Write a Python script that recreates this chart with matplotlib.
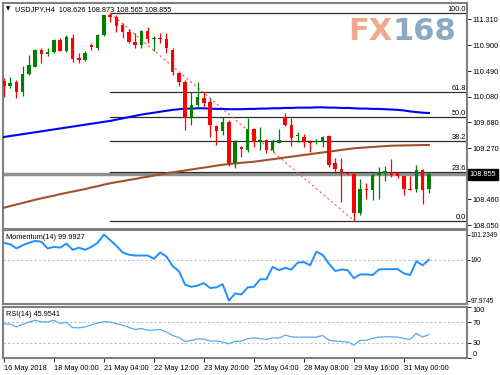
import numpy as np
import matplotlib.pyplot as plt

plt.rcParams['font.family'] = ['Liberation Sans', 'DejaVu Sans']

# H4 candles, 16 May 16:00 .. 31 May 16:00
opens = [110.33, 110.25, 110.31, 110.15, 110.44, 110.56, 110.83, 110.755, 110.79, 110.98,
         110.81, 111.02, 110.70, 110.665, 110.90, 110.85, 111.06, 111.378, 111.35, 111.22,
         111.11, 110.955, 110.90, 111.13, 110.99, 111.02, 110.99, 110.82, 110.46, 110.32,
         109.74, 109.95, 110.07, 110.00, 109.62, 109.54, 109.69, 109.03, 109.29, 109.24,
         109.567, 109.38, 109.40, 109.24, 109.355, 109.757, 109.635, 109.46, 109.45, 109.37,
         109.36, 109.37, 109.46, 109.03, 108.93, 108.88, 108.855, 108.236, 108.62, 108.60,
         108.84, 108.88, 108.89, 108.87, 108.83, 108.62, 108.616, 108.92, 108.626]
highs = [110.38, 110.40, 110.35, 110.57, 110.74, 110.84, 110.86, 110.86, 111.00, 111.02,
         111.06, 111.08, 110.78, 110.80, 110.93, 111.08, 111.38, 111.405, 111.38, 111.25,
         111.16, 111.09, 111.14, 111.19, 111.05, 111.09, 111.09, 110.85, 110.46, 110.35,
         110.16, 110.32, 110.16, 110.06, 109.635, 109.757, 109.71, 109.40, 109.30, 109.74,
         109.58, 109.60, 109.42, 109.41, 109.567, 109.83, 109.75, 109.53, 109.49, 109.40,
         109.42, 109.46, 109.48, 109.11, 109.11, 108.89, 108.87, 108.78, 108.71, 108.87,
         108.97, 108.98, 109.09, 108.895, 108.83, 108.82, 109.00, 108.93, 108.873]
lows = [110.08, 110.22, 110.07, 110.09, 110.43, 110.55, 110.62, 110.73, 110.78, 110.80,
        110.79, 110.64, 110.61, 110.65, 110.82, 110.83, 111.05, 111.27, 111.11, 111.01,
        110.94, 110.85, 110.85, 110.93, 110.80, 110.94, 110.77, 110.43, 110.25, 109.55,
        109.635, 109.925, 109.925, 109.45, 109.32, 109.477, 108.99, 108.95, 109.13, 109.21,
        109.29, 109.24, 109.19, 109.21, 109.35, 109.62, 109.30, 109.37, 109.29, 109.21,
        109.33, 109.29, 108.975, 108.87, 108.42, 108.84, 108.12, 108.21, 108.47, 108.45,
        108.47, 108.74, 108.81, 108.79, 108.525, 108.60, 108.58, 108.39, 108.565]
closes = [110.25, 110.30, 110.15, 110.45, 110.59, 110.83, 110.755, 110.79, 110.98, 110.81,
          111.03, 110.68, 110.665, 110.77, 110.875, 111.06, 111.37, 111.35, 111.20, 111.11,
          110.955, 110.90, 111.13, 110.99, 111.02, 110.99, 110.85, 110.48, 110.32, 109.74,
          109.95, 110.08, 109.98, 109.635, 109.54, 109.687, 109.03, 109.36, 109.25, 109.567,
          109.37, 109.40, 109.24, 109.37, 109.40, 109.635, 109.424, 109.48, 109.37, 109.35,
          109.385, 109.45, 109.00, 108.93, 108.87, 108.855, 108.236, 108.616, 108.60, 108.84,
          108.89, 108.91, 108.84, 108.83, 108.616, 108.61, 108.92, 108.60, 108.855]

ma_blue = [109.445, 109.46, 109.475, 109.49, 109.505, 109.52, 109.535, 109.55, 109.565, 109.58,
           109.595, 109.61, 109.625, 109.64, 109.655, 109.67, 109.685, 109.70, 109.72, 109.74,
           109.76, 109.78, 109.80, 109.815, 109.83, 109.845, 109.86, 109.875, 109.885, 109.895,
           109.895, 109.90, 109.90, 109.895, 109.89, 109.89, 109.885, 109.885, 109.885, 109.89,
           109.89, 109.895, 109.895, 109.90, 109.90, 109.905, 109.905, 109.91, 109.91, 109.91,
           109.915, 109.915, 109.91, 109.91, 109.905, 109.905, 109.90, 109.895, 109.895, 109.89,
           109.89, 109.885, 109.88, 109.875, 109.865, 109.85, 109.84, 109.83, 109.825]
ma_brown = [108.324, 108.35, 108.375, 108.40, 108.425, 108.45, 108.473, 108.495, 108.515, 108.54,
            108.56, 108.58, 108.60, 108.62, 108.645, 108.665, 108.69, 108.711, 108.73, 108.745,
            108.765, 108.78, 108.80, 108.815, 108.835, 108.85, 108.87, 108.885, 108.90, 108.915,
            108.93, 108.945, 108.96, 108.975, 108.99, 109.005, 109.017, 109.027, 109.036, 109.045,
            109.053, 109.066, 109.08, 109.093, 109.106, 109.12, 109.133, 109.146, 109.16, 109.173,
            109.186, 109.20, 109.213, 109.226, 109.24, 109.253, 109.266, 109.273, 109.28, 109.287,
            109.294, 109.30, 109.307, 109.309, 109.311, 109.313, 109.315, 109.317, 109.318]

momentum = [100.82, 100.76, 100.55, 100.71, 100.83, 100.92, 100.88, 100.55, 100.63, 100.59,
            100.79, 100.48, 100.59, 100.48, 100.63, 100.83, 101.2349, 100.96, 100.68, 100.35,
            100.24, 100.20, 100.20, 100.20, 100.04, 100.35, 100.15, 99.68, 99.43, 98.76,
            98.66, 98.72, 98.84, 98.60, 98.63, 98.79, 97.9745, 98.33, 98.28, 98.63,
            98.66, 99.03, 99.03, 99.64, 99.48, 99.59, 99.51, 99.85, 99.88, 99.72,
            100.39, 100.23, 99.80, 99.44, 99.51, 99.48, 99.08, 99.27, 99.27, 99.24,
            99.51, 99.53, 99.53, 99.53, 99.32, 99.24, 99.92, 99.72, 99.9927]
rsi = [66.8, 66.5, 61.0, 66.0, 70.5, 73.9, 71.0, 70.6, 73.9, 67.5,
       70.0, 59.5, 59.1, 61.0, 65.0, 68.5, 71.4, 70.5, 67.0, 64.5,
       60.0, 55.8, 57.8, 54.5, 55.0, 55.8, 51.0, 44.0, 40.0, 32.5,
       34.5, 37.5, 37.0, 33.0, 33.5, 31.2, 28.0, 32.5, 33.2, 38.0,
       39.6, 37.9, 36.4, 39.6, 38.9, 44.8, 41.5, 40.9, 40.9, 40.9,
       40.9, 44.2, 35.0, 33.2, 32.5, 31.5, 25.5, 34.5, 34.5, 38.5,
       41.0, 41.6, 41.6, 40.9, 38.3, 36.4, 48.1, 41.0, 45.9541]

time_pos = [0, 8, 16, 24, 32, 40, 48, 56, 64]
time_labels = ['16 May 2018', '18 May 00:00', '21 May 04:00', '22 May 12:00', '23 May 20:00',
               '25 May 04:00', '28 May 08:00', '29 May 16:00', '31 May 00:00']
price_ticks = [111.310, 110.900, 110.490, 110.080, 109.680, 109.270, 108.460, 108.050]
last_price = 108.855

fib_high, fib_low = 111.405, 108.12
fib_start, fib_end = 17, 56
fib_levels = [100.0, 61.8, 50.0, 38.2, 23.6, 0.0]

W, H = 500, 375
fig = plt.figure(figsize=(5, 3.75), dpi=100)
fs = 5.3
grey = '#808080'

def add_panel(top, bottom):
    ax = fig.add_axes([3 / W, (H - bottom) / H, 464 / W, (bottom - top) / H])
    for s in ax.spines.values():
        s.set_color(grey)
        s.set_linewidth(1.5)
    ax.yaxis.tick_right()
    ax.tick_params(axis='y', labelsize=fs, length=3, width=0.6, color='black', pad=1)
    ax.set_xticks([])
    ax.set_xlim(-0.15, 74.1)
    return ax

ax = add_panel(3, 229)
ax_m = add_panel(230, 304)
ax_r = add_panel(307, 358)

x = np.arange(len(opens))
o = np.array(opens); c = np.array(closes)
up = c >= o
cols = np.where(up, '#008000', '#ff0000')

# current price line
ax.axhline(last_price, color='#909090', lw=2.5, zorder=1)

# fibonacci
rng = fib_high - fib_low
for lv in fib_levels:
    p = fib_low + lv / 100 * rng
    ax.plot([fib_start, 80], [p, p], color='#303030', lw=0.9, zorder=1)
    ax.text(73.9, p, f'{lv:.1f}', fontsize=fs, ha='right', va='bottom', zorder=5)
ax.plot([fib_start, fib_end], [fib_high, fib_low], color='#ff5050', lw=0.8,
        ls=(0, (2, 2.5)), zorder=2)

ax.plot(x, ma_blue, color='#0000ff', lw=1.5, zorder=3)
ax.plot(x, ma_brown, color='#a0522d', lw=1.5, zorder=3)

ax.vlines(x, lows, highs, colors=cols, lw=0.9, zorder=4)
body = np.maximum(np.abs(c - o), 0.012)
ax.bar(x, body, bottom=np.minimum(o, c), width=0.58, color=cols, lw=0, zorder=4)

ax.set_ylim(107.987, 111.568)
ax.set_yticks(price_ticks)
ax.set_yticklabels([f'{v:.3f}' for v in price_ticks])
ax.annotate(f'{last_price:.3f}', xy=(1, last_price), xycoords=('axes fraction', 'data'),
            xytext=(2, 0), textcoords='offset points', fontsize=fs, color='white',
            va='center', ha='left',
            bbox=dict(boxstyle='square,pad=0.25', fc='black', ec='black'))

ax.text(0.006, 0.985, '▼', transform=ax.transAxes, fontsize=4, va='top', ha='left',
        family='DejaVu Sans')
ax.text(0.025, 0.985, 'USDJPY,H4  108.626 108.873 108.565 108.855', transform=ax.transAxes,
        fontsize=fs, va='top', ha='left')
ax.text(0.745, 0.875, 'FX', transform=ax.transAxes, fontsize=22, fontweight='bold',
        color='#f2a88c', va='center', ha='left', family='DejaVu Sans')
ax.text(0.84, 0.875, '168', transform=ax.transAxes, fontsize=22, fontweight='bold',
        color='#8aaac4', va='center', ha='left', family='DejaVu Sans')

# momentum
ax_m.axhline(100, color='#c0c0c0', lw=0.8, ls=(0, (2, 2)))
ax_m.plot(x, momentum, color='#1e90ff', lw=1.4)
ax_m.set_ylim(97.81, 101.46)
ax_m.set_yticks([101.2349, 100, 97.9745])
ax_m.set_yticklabels(['101.2349', '100', '97.9745'])
ax_m.tick_params(axis='y', labelsize=4.7, length=2, pad=0.8)
ax_m.text(0.006, 0.94, 'Momentum(14) 99.9927', transform=ax_m.transAxes, fontsize=fs,
          va='top', ha='left')

# rsi
for lv in (70, 30):
    ax_r.axhline(lv, color='#c0c0c0', lw=0.8, ls=(0, (2, 2)))
ax_r.plot(x, rsi, color='#5aaaf0', lw=0.9)
ax_r.set_ylim(0, 100)
ax_r.set_yticks([100, 70, 30, 0])
ax_r.set_yticklabels(['100', '70', '30', '0'])
tk = ax_r.yaxis.get_major_ticks()
tk[0].label2.set_va('top')
tk[3].label2.set_va('bottom')
ax_r.text(0.006, 0.93, 'RSI(14) 45.9541', transform=ax_r.transAxes, fontsize=fs,
          va='top', ha='left')

ax_r.set_xticks(time_pos)
ax_r.set_xticklabels(time_labels, ha='left')
ax_r.tick_params(axis='x', labelsize=fs, length=3, width=0.6, pad=2)

fig.savefig('out.png', dpi=100)
